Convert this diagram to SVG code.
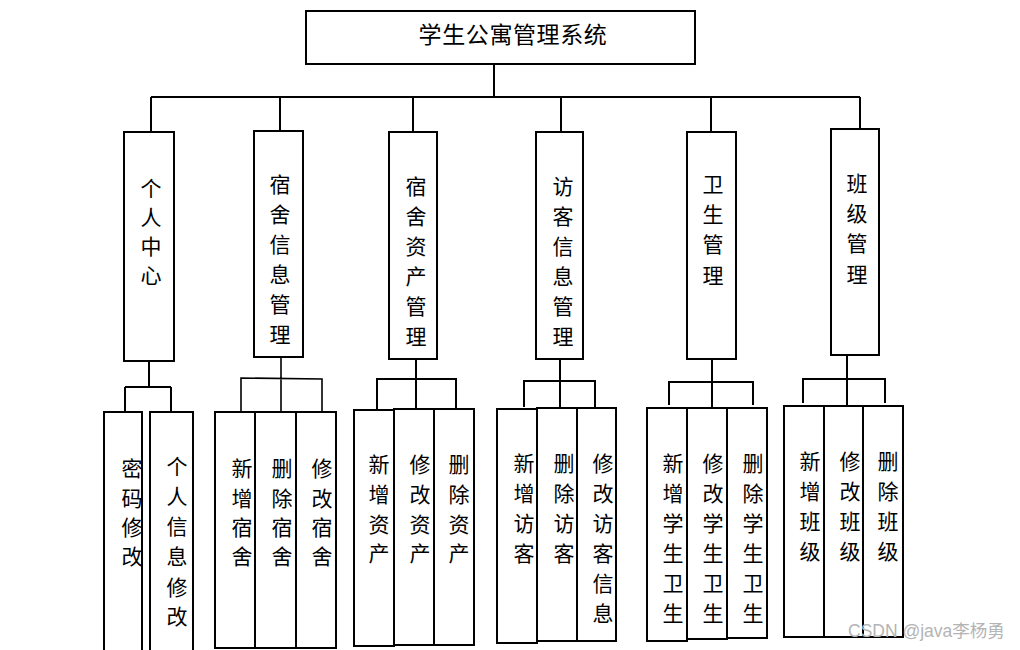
<svg xmlns="http://www.w3.org/2000/svg" width="1020" height="650" viewBox="0 0 1020 650">
<style>
.b{fill:#fff;stroke:#000;stroke-width:2}
.l{fill:none;stroke:#000;stroke-width:2}
.t{font-family:"Noto Sans CJK SC","Noto Sans CJK JP",sans-serif;font-size:21px;fill:#000;text-anchor:middle;dominant-baseline:central}
.wm{font-family:"Liberation Sans","Noto Sans CJK SC",sans-serif;font-size:17.5px;fill:#b4b4b4}
</style>
<rect width="1020" height="650" fill="#fff"/>
<g id="connectors">
<path class="l" d="M494 64V97M151 97H860M151 97V132M280 97V131M413 97V132M561 97V132M711 97V132M860 97V129"/>
<path class="l" d="M149 361V387M125 387H171M125 387V412M171 387V412"/>
<path class="l" d="M281 357V412M241 412V378L322 379V412" style="stroke-width:1.6"/>
<path class="l" d="M416 359V409M377 410V379H456V409"/>
<path class="l" d="M560 359V408M524 407V381H595V407"/>
<path class="l" d="M712 359V408M669 405V382H753V405"/>
<path class="l" d="M847 355V406M803 403V379H885V403"/>
</g>
<g id="root"><rect class="b" x="306" y="11" width="389" height="53"/><text class="t" x="513" y="33" style="font-size:23px;letter-spacing:0.6px">学生公寓管理系统</text></g>
<g id="n1"><rect class="b" x="124" y="132" width="50" height="229"/><text class="t"><tspan x="151" y="187">个</tspan><tspan x="151" y="216">人</tspan><tspan x="151" y="245">中</tspan><tspan x="151" y="274">心</tspan></text></g>
<g id="n2"><rect class="b" x="254" y="131" width="49" height="226"/><text class="t"><tspan x="280" y="183">宿</tspan><tspan x="280" y="213">舍</tspan><tspan x="280" y="243">信</tspan><tspan x="280" y="273">息</tspan><tspan x="280" y="303">管</tspan><tspan x="280" y="333">理</tspan></text></g>
<g id="n3"><rect class="b" x="389" y="132" width="48" height="227"/><text class="t"><tspan x="416" y="185">宿</tspan><tspan x="416" y="215">舍</tspan><tspan x="416" y="245">资</tspan><tspan x="416" y="275">产</tspan><tspan x="416" y="305">管</tspan><tspan x="416" y="335">理</tspan></text></g>
<g id="n4"><rect class="b" x="536" y="132" width="47" height="227"/><text class="t"><tspan x="563" y="185">访</tspan><tspan x="563" y="215">客</tspan><tspan x="563" y="245">信</tspan><tspan x="563" y="275">息</tspan><tspan x="563" y="305">管</tspan><tspan x="563" y="335">理</tspan></text></g>
<g id="n5"><rect class="b" x="687" y="132" width="49" height="227"/><text class="t"><tspan x="713" y="183">卫</tspan><tspan x="713" y="213">生</tspan><tspan x="713" y="243">管</tspan><tspan x="713" y="274">理</tspan></text></g>
<g id="n6"><rect class="b" x="831" y="129" width="48" height="226"/><text class="t"><tspan x="857" y="182">班</tspan><tspan x="857" y="212">级</tspan><tspan x="857" y="242">管</tspan><tspan x="857" y="273">理</tspan></text></g>
<g id="n1a"><rect class="b" x="104" y="412" width="38" height="250"/><text class="t"><tspan x="132" y="467">密</tspan><tspan x="132" y="497">码</tspan><tspan x="132" y="526">修</tspan><tspan x="132" y="555">改</tspan></text></g>
<g id="n1b"><rect class="b" x="150" y="412" width="43" height="250"/><text class="t"><tspan x="177" y="465">个</tspan><tspan x="177" y="495">人</tspan><tspan x="177" y="525">信</tspan><tspan x="177" y="555">息</tspan><tspan x="177" y="586">修</tspan><tspan x="177" y="615">改</tspan></text></g>
<g id="n2a"><rect class="b" x="215" y="412" width="40" height="236"/><text class="t"><tspan x="242" y="467">新</tspan><tspan x="242" y="497">增</tspan><tspan x="242" y="526">宿</tspan><tspan x="242" y="555">舍</tspan></text></g>
<g id="n2b"><rect class="b" x="255" y="412" width="41" height="236"/><text class="t"><tspan x="282" y="467">删</tspan><tspan x="282" y="497">除</tspan><tspan x="282" y="526">宿</tspan><tspan x="282" y="555">舍</tspan></text></g>
<g id="n2c"><rect class="b" x="296" y="412" width="40" height="236"/><text class="t"><tspan x="322" y="467">修</tspan><tspan x="322" y="497">改</tspan><tspan x="322" y="526">宿</tspan><tspan x="322" y="555">舍</tspan></text></g>
<g id="n3a"><rect class="b" x="354" y="410" width="40" height="236"/><text class="t"><tspan x="379" y="463">新</tspan><tspan x="379" y="493">增</tspan><tspan x="379" y="523">资</tspan><tspan x="379" y="552">产</tspan></text></g>
<g id="n3b"><rect class="b" x="394" y="409" width="40" height="236"/><text class="t"><tspan x="420" y="463">修</tspan><tspan x="420" y="493">改</tspan><tspan x="420" y="523">资</tspan><tspan x="420" y="552">产</tspan></text></g>
<g id="n3c"><rect class="b" x="434" y="409" width="40" height="236"/><text class="t"><tspan x="459" y="463">删</tspan><tspan x="459" y="493">除</tspan><tspan x="459" y="523">资</tspan><tspan x="459" y="552">产</tspan></text></g>
<g id="n4a"><rect class="b" x="497" y="409" width="40" height="234"/><text class="t"><tspan x="524" y="462">新</tspan><tspan x="524" y="492">增</tspan><tspan x="524" y="522">访</tspan><tspan x="524" y="552">客</tspan></text></g>
<g id="n4b"><rect class="b" x="537" y="408" width="40" height="233"/><text class="t"><tspan x="564" y="462">删</tspan><tspan x="564" y="492">除</tspan><tspan x="564" y="522">访</tspan><tspan x="564" y="552">客</tspan></text></g>
<g id="n4c"><rect class="b" x="577" y="408" width="39" height="233"/><text class="t"><tspan x="603" y="462">修</tspan><tspan x="603" y="492">改</tspan><tspan x="603" y="522">访</tspan><tspan x="603" y="552">客</tspan><tspan x="603" y="582">信</tspan><tspan x="603" y="612">息</tspan></text></g>
<g id="n5a"><rect class="b" x="647" y="408" width="40" height="233"/><text class="t"><tspan x="673" y="462">新</tspan><tspan x="673" y="492">增</tspan><tspan x="673" y="522">学</tspan><tspan x="673" y="552">生</tspan><tspan x="673" y="582">卫</tspan><tspan x="673" y="612">生</tspan></text></g>
<g id="n5b"><rect class="b" x="687" y="408" width="40" height="231"/><text class="t"><tspan x="713" y="462">修</tspan><tspan x="713" y="492">改</tspan><tspan x="713" y="522">学</tspan><tspan x="713" y="552">生</tspan><tspan x="713" y="582">卫</tspan><tspan x="713" y="612">生</tspan></text></g>
<g id="n5c"><rect class="b" x="727" y="408" width="40" height="230"/><text class="t"><tspan x="753" y="462">删</tspan><tspan x="753" y="492">除</tspan><tspan x="753" y="522">学</tspan><tspan x="753" y="552">生</tspan><tspan x="753" y="582">卫</tspan><tspan x="753" y="612">生</tspan></text></g>
<g id="n6a"><rect class="b" x="784" y="406" width="40" height="231"/><text class="t"><tspan x="810" y="460">新</tspan><tspan x="810" y="490">增</tspan><tspan x="810" y="520">班</tspan><tspan x="810" y="550">级</tspan></text></g>
<g id="n6b"><rect class="b" x="824" y="406" width="39" height="231"/><text class="t"><tspan x="850" y="460">修</tspan><tspan x="850" y="490">改</tspan><tspan x="850" y="520">班</tspan><tspan x="850" y="550">级</tspan></text></g>
<g id="n6c"><rect class="b" x="863" y="406" width="40" height="231"/><text class="t"><tspan x="888" y="460">删</tspan><tspan x="888" y="490">除</tspan><tspan x="888" y="520">班</tspan><tspan x="888" y="550">级</tspan></text></g>
<text class="wm" x="848" y="637">CSDN @java李杨勇</text>
</svg>
